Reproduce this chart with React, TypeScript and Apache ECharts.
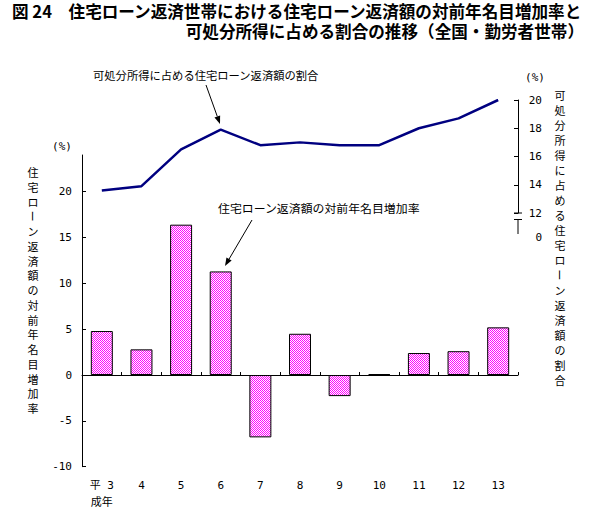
import React, { useEffect, useRef } from 'react';
import * as echarts from 'echarts';

// ---- data ----
const xTickLabels = ['平 3\n成年', '4', '5', '6', '7', '8', '9', '10', '11', '12', '13'];
const growthRate = [4.8, 2.8, 16.4, 11.3, -6.8, 4.5, -2.3, 0.1, 2.4, 2.6, 5.2];
const incomeShare = [13.6, 13.9, 16.5, 17.9, 16.8, 17.0, 16.8, 16.8, 18.0, 18.7, 20.0];
const leftTicks = [-10, -5, 0, 5, 10, 15, 20];
const rightTicks = [12, 14, 16, 18, 20];
const rightBreakLabel = '0';
const titleLine1 = '図 24　住宅ローン返済世帯における住宅ローン返済額の対前年名目増加率と';
const titleLine2 = '可処分所得に占める割合の推移（全国・勤労者世帯）';
const leftAxisTitle = '住宅ローン返済額の対前年名目増加率';
const rightAxisTitle = '可処分所得に占める住宅ローン返済額の割合';
const annLine = '可処分所得に占める住宅ローン返済額の割合';
const annBar = '住宅ローン返済額の対前年名目増加率';
const unitLabel = '(%)';

const CJK = "'Noto Sans CJK JP', sans-serif";
const MONO = "'DejaVu Sans Mono', 'Noto Sans CJK JP', monospace";

function arrow(x1: number, y1: number, x2: number, y2: number) {
  const dx = x2 - x1, dy = y2 - y1;
  const len = Math.hypot(dx, dy);
  const ux = dx / len, uy = dy / len;
  const hl = 8, hw = 3;
  const bx = x2 - ux * hl, by = y2 - uy * hl;
  const px = -uy, py = ux;
  return [
    { type: 'line', shape: { x1, y1, x2: bx, y2: by }, style: { stroke: '#000', lineWidth: 1 } },
    {
      type: 'polygon',
      shape: { points: [[x2, y2], [bx + px * hw, by + py * hw], [bx - px * hw, by - py * hw]] },
      style: { fill: '#000' },
    },
  ];
}

// vertical text: split into runs so that the long vowel mark can be rotated
function verticalText(str: string, x: number, firstCenter: number, step: number, fontSize: number) {
  const els: any[] = [];
  const chars = Array.from(str);
  let i = 0;
  while (i < chars.length) {
    if (chars[i] === 'ー') {
      els.push({
        type: 'text',
        x,
        y: firstCenter + i * step,
        rotation: -Math.PI / 2,
        style: { text: 'ー', fontSize, lineHeight: step, fontFamily: CJK, fill: '#000', align: 'center', verticalAlign: 'middle' },
      });
      i++;
      continue;
    }
    let j = i;
    while (j < chars.length && chars[j] !== 'ー') j++;
    els.push({
      type: 'text',
      x,
      y: firstCenter + i * step - step / 2,
      style: {
        text: chars.slice(i, j).join('\n'),
        fontSize,
        lineHeight: step,
        fontFamily: CJK,
        fill: '#000',
        align: 'center',
        verticalAlign: 'top',
      },
    });
    i = j;
  }
  return els;
}

function makeChecker() {
  const c = document.createElement('canvas');
  c.width = 2;
  c.height = 2;
  const ctx = c.getContext('2d')!;
  ctx.fillStyle = '#ffffff';
  ctx.fillRect(0, 0, 2, 2);
  ctx.fillStyle = '#ff00ff';
  ctx.fillRect(0, 0, 1, 1);
  ctx.fillRect(1, 1, 1, 1);
  return c;
}

export default function App() {
  const ref = useRef<HTMLDivElement>(null);
  useEffect(() => {
    if (!ref.current) return;
    const chart = echarts.init(ref.current, null, { renderer: 'svg' });
    const pattern: any = { image: makeChecker(), repeat: 'repeat', imageWidth: 2, imageHeight: 2 };
    const axisLabelStyle = { color: '#000', fontSize: 11, fontFamily: MONO };
    const option: any = {
      animation: false,
      backgroundColor: '#fff',
      grid: [
        { left: 82, right: 78, top: 155, bottom: 45.3 },
        { left: 82, right: 78, top: 100, height: 113 },
      ],
      xAxis: [
        {
          gridIndex: 0,
          type: 'category',
          data: xTickLabels,
          position: 'bottom',
          axisLine: { show: false, onZero: false },
          axisTick: { show: false },
          axisLabel: { ...axisLabelStyle, margin: 10, lineHeight: 17, interval: 0 },
        },
        {
          gridIndex: 0,
          type: 'category',
          data: xTickLabels,
          position: 'bottom',
          axisLine: { show: true, onZero: true, lineStyle: { color: '#000', width: 1 } },
          axisTick: { show: true, inside: true, length: 3, lineStyle: { color: '#000' } },
          axisLabel: { show: false },
        },
        {
          gridIndex: 1,
          type: 'category',
          data: xTickLabels,
          show: false,
        },
      ],
      yAxis: [
        {
          gridIndex: 0,
          type: 'value',
          position: 'left',
          min: -10,
          max: 24,
          interval: 5,
          axisLine: { show: true, lineStyle: { color: '#000', width: 1 } },
          axisTick: { show: true, inside: true, length: 4, customValues: leftTicks, lineStyle: { color: '#000' } },
          axisLabel: { ...axisLabelStyle, margin: 10, customValues: leftTicks },
          splitLine: { show: false },
        },
        {
          gridIndex: 1,
          type: 'value',
          position: 'right',
          min: 12,
          max: 20,
          interval: 2,
          axisLine: { show: true, lineStyle: { color: '#000', width: 1 } },
          axisTick: { show: true, inside: true, length: 4, customValues: rightTicks, lineStyle: { color: '#000' } },
          axisLabel: { ...axisLabelStyle, margin: 24, align: 'right', customValues: rightTicks },
          splitLine: { show: false },
        },
      ],
      series: [
        {
          type: 'bar',
          xAxisIndex: 0,
          yAxisIndex: 0,
          data: growthRate,
          barWidth: 22,
          itemStyle: { color: pattern, borderColor: '#000', borderWidth: 1 },
        },
        {
          type: 'line',
          xAxisIndex: 2,
          yAxisIndex: 1,
          data: incomeShare,
          symbol: 'none',
          lineStyle: { color: '#000080', width: 2.5 },
        },
      ],
      graphic: [
        {
          type: 'text',
          x: 12,
          y: 10.5,
          style: { text: titleLine1, fontSize: 16.6, lineHeight: 17, fontWeight: 'bold', fontFamily: CJK, fill: '#000', align: 'left', verticalAlign: 'middle' },
        },
        {
          type: 'text',
          x: 584,
          y: 30.5,
          style: { text: titleLine2, fontSize: 16.6, lineHeight: 17, fontWeight: 'bold', fontFamily: CJK, fill: '#000', align: 'right', verticalAlign: 'middle' },
        },
        {
          type: 'text',
          x: 62,
          y: 146,
          style: { text: unitLabel, fontSize: 11, fontFamily: MONO, fill: '#000', align: 'center', verticalAlign: 'middle' },
        },
        {
          type: 'text',
          x: 535,
          y: 77,
          style: { text: unitLabel, fontSize: 11, fontFamily: MONO, fill: '#000', align: 'center', verticalAlign: 'middle' },
        },
        ...verticalText(leftAxisTitle, 33, 172, 14.75, 11),
        ...verticalText(rightAxisTitle, 560, 95, 15, 11),
        {
          type: 'text',
          x: 93,
          y: 75,
          style: { text: annLine, fontSize: 11.3, fontFamily: CJK, fill: '#000', align: 'left', verticalAlign: 'middle' },
        },
        ...arrow(206, 85, 220, 124),
        {
          type: 'text',
          x: 218,
          y: 207,
          style: { text: annBar, fontSize: 11.9, fontFamily: CJK, fill: '#000', align: 'left', verticalAlign: 'middle' },
        },
        ...arrow(252, 220, 225, 266),
        // axis break on the right axis
        { type: 'line', shape: { x1: 514, y1: 213, x2: 522, y2: 213 }, style: { stroke: '#000', lineWidth: 1 } },
        { type: 'line', shape: { x1: 514, y1: 219.5, x2: 522, y2: 219.5 }, style: { stroke: '#000', lineWidth: 1 } },
        { type: 'line', shape: { x1: 518, y1: 219.5, x2: 518, y2: 234 }, style: { stroke: '#000', lineWidth: 1 } },
        {
          type: 'text',
          x: 542,
          y: 237,
          style: { text: rightBreakLabel, fontSize: 11, fontFamily: MONO, fill: '#000', align: 'right', verticalAlign: 'middle' },
        },
      ],
    };
    chart.setOption(option);
    return () => chart.dispose();
  }, []);
  return <div ref={ref} style={{ position: 'absolute', left: 0, top: 0, width: 596, height: 512 }} />;
}
